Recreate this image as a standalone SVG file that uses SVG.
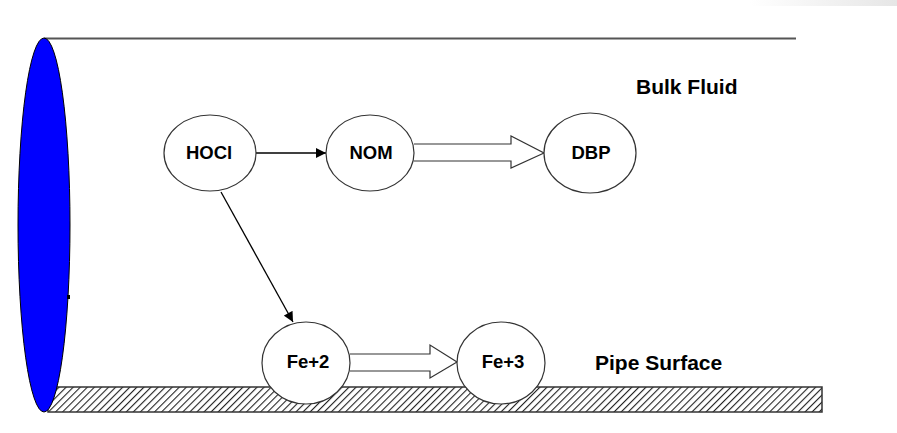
<svg xmlns="http://www.w3.org/2000/svg" width="897" height="433" viewBox="0 0 897 433">
  <style>
    .node { fill: #ffffff; stroke: #333333; stroke-width: 1.2; }
    .nlabel { font-family: "Liberation Sans", Arial, sans-serif; font-weight: bold; font-size: 18.5px; fill: #000000; text-anchor: middle; }
    .label { font-family: "Liberation Sans", Arial, sans-serif; font-weight: bold; font-size: 21px; fill: #000000; }
    .conn { stroke: #000000; stroke-width: 1.3; fill: none; }
    .block { fill: #ffffff; stroke: #333333; stroke-width: 1.2; stroke-linejoin: miter; }
  </style>
  <defs>
    <marker id="arrow" viewBox="0 0 10 10" refX="10" refY="5" markerWidth="11" markerHeight="10" markerUnits="userSpaceOnUse" orient="auto">
      <path d="M0,0 L10,5 L0,10 Z" fill="#000000"/>
    </marker>
    <pattern id="hatch" width="5" height="5" patternUnits="userSpaceOnUse" patternTransform="rotate(45)">
      <rect width="5" height="5" fill="#ffffff"/>
      <line x1="0" y1="0" x2="0" y2="5" stroke="#222222" stroke-width="2.2"/>
    </pattern>
    <linearGradient id="corner" x1="0" y1="0" x2="1" y2="0">
      <stop offset="0" stop-color="#ffffff"/>
      <stop offset="1" stop-color="#e6e6e6"/>
    </linearGradient>
  </defs>
  <rect x="0" y="0" width="897" height="433" fill="#ffffff"/>
  <rect x="750" y="0" width="147" height="6" fill="url(#corner)"/>

  <!-- pipe -->
  <g id="pipe">
    <line x1="44" y1="38.5" x2="796" y2="38.5" stroke="#555555" stroke-width="2"/>
    <rect id="pipe-surface" x="48" y="387" width="774" height="25" fill="url(#hatch)" stroke="#333333" stroke-width="1.5"/>
    <ellipse cx="44" cy="225" rx="26" ry="187" fill="#0000ff" stroke="#000000" stroke-width="1"/>
    <rect x="67" y="295" width="3" height="4" fill="#000000"/>
  </g>

  <!-- connectors -->
  <g id="connectors">
    <line class="conn" x1="256" y1="153" x2="326" y2="153" marker-end="url(#arrow)"/>
    <line class="conn" x1="221" y1="192" x2="293" y2="322" marker-end="url(#arrow)"/>
    <path class="block" d="M414,144 L511,144 L511,136 L544,153 L511,168 L511,161 L414,161"/>
    <path class="block" d="M350,354 L430,354 L430,345 L457,362 L430,378 L430,371 L350,371"/>
  </g>

  <g id="HOCl">
    <ellipse class="node" cx="210" cy="153" rx="46" ry="38"/>
    <text class="nlabel" x="209" y="159">HOCl</text>
  </g>
  <g id="NOM">
    <ellipse class="node" cx="370" cy="153" rx="44" ry="38"/>
    <text class="nlabel" x="371" y="159">NOM</text>
  </g>
  <g id="DBP">
    <ellipse class="node" cx="590" cy="153" rx="46" ry="40"/>
    <text class="nlabel" x="591" y="159">DBP</text>
  </g>
  <g id="Fe2">
    <ellipse class="node" cx="306" cy="363" rx="44" ry="41"/>
    <text class="nlabel" x="308" y="368">Fe+2</text>
  </g>
  <g id="Fe3">
    <ellipse class="node" cx="501" cy="363" rx="44" ry="41"/>
    <text class="nlabel" x="503" y="368">Fe+3</text>
  </g>

  <text class="label" x="636" y="94">Bulk Fluid</text>
  <text class="label" x="595" y="370">Pipe Surface</text>
</svg>
